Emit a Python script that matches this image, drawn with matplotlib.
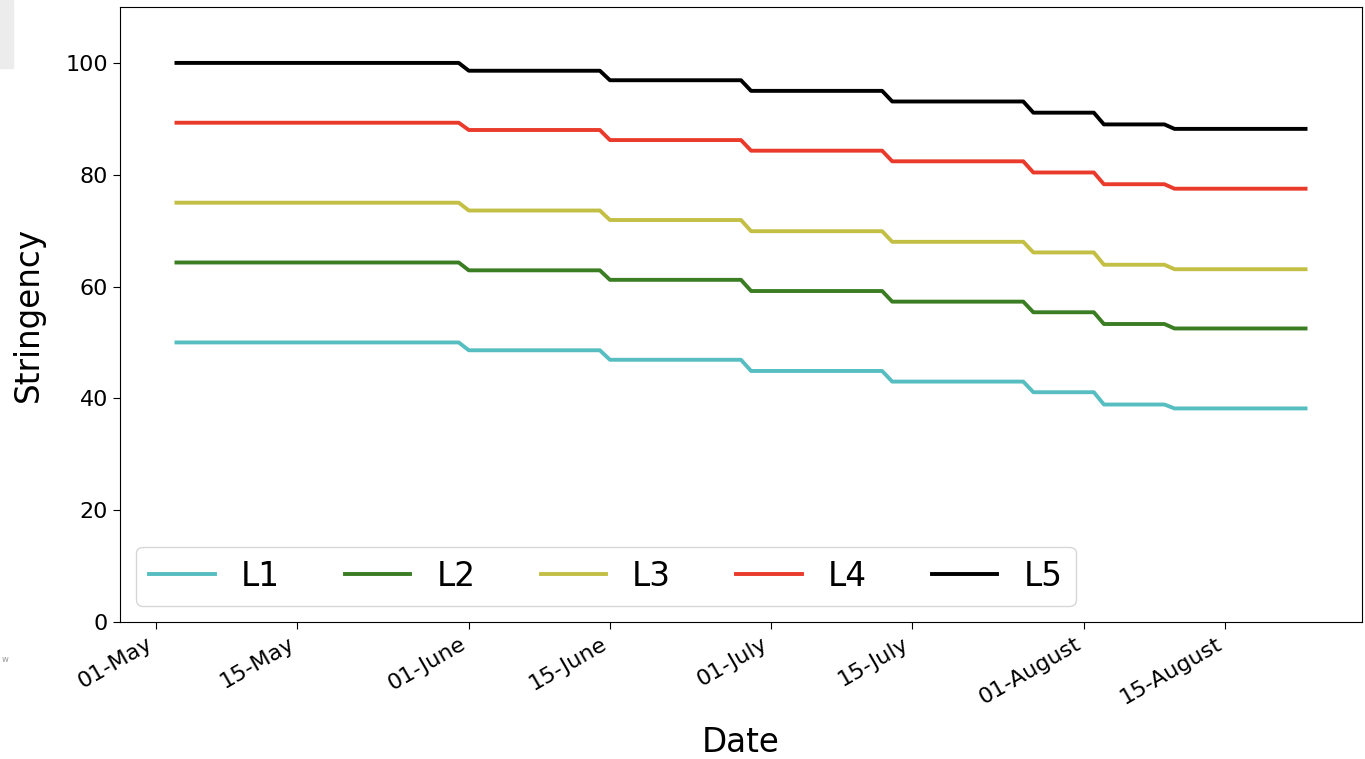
import pandas as pd
import matplotlib
matplotlib.use("Agg")
import matplotlib.pyplot as plt
import matplotlib.dates as mdates
from matplotlib.patches import Rectangle

# first day of each stringency level (last level runs to end_date)
step_dates = ['2020-05-03', '2020-06-01', '2020-06-15', '2020-06-29',
              '2020-07-13', '2020-07-27', '2020-08-03', '2020-08-10']
end_date = '2020-08-23'

labels = ['L1', 'L2', 'L3', 'L4', 'L5']
L1 = [50.0, 48.6, 46.9, 44.9, 43.0, 41.1, 38.9, 38.2]
L2 = [64.3, 62.9, 61.2, 59.2, 57.3, 55.4, 53.3, 52.5]
L3 = [75.0, 73.6, 71.9, 69.9, 68.0, 66.1, 63.9, 63.1]
L4 = [89.3, 88.0, 86.2, 84.3, 82.4, 80.4, 78.3, 77.5]
L5 = [100.0, 98.6, 96.9, 95.0, 93.1, 91.1, 89.0, 88.2]
colors = ['#56bec1', '#3a7d22', '#c3bf45', '#e93a2b', '#000000']

tick_dates = ['2020-05-01', '2020-05-15', '2020-06-01', '2020-06-15',
              '2020-07-01', '2020-07-15', '2020-08-01', '2020-08-15']


def daily(levels):
    # hold each level until the day before the next change
    starts = pd.to_datetime(step_dates)
    idx = pd.date_range(starts[0], end_date, freq='D')
    s = pd.Series(levels, index=starts).reindex(idx).ffill()
    return s


fig = plt.figure(figsize=(13.65, 7.59), dpi=100)
ax = fig.add_axes([120 / 1365, 137 / 759, 1242 / 1365, 615 / 759])

for lab, vals, c in zip(labels, [L1, L2, L3, L4, L5], colors):
    s = daily(vals)
    ax.plot(s.index, s.values, color=c, linewidth=2.8, label=lab)

ax.set_ylim(0, 110)
ax.set_yticks([0, 20, 40, 60, 80, 100])
ax.set_xticks(pd.to_datetime(tick_dates))
ax.xaxis.set_major_formatter(mdates.DateFormatter('%d-%B'))
ax.tick_params(axis='both', labelsize=16, length=5)
plt.setp(ax.get_xticklabels(), rotation=30, ha='right')

ax.set_ylabel('Stringency', fontsize=23.5, labelpad=15)
ax.set_xlabel('Date', fontsize=23.5, labelpad=13)

ax.legend(loc='lower left', ncol=5, fontsize=23.5, handlelength=2.0)

# leftover bits of the screenshot
fig.patches.append(Rectangle((0, 1 - 68 / 759), 13 / 1365, 68 / 759,
                             transform=fig.transFigure, color='#ececec', zorder=0))
fig.text(2 / 1365, 1 - 660 / 759, 'w', fontsize=6, color='#999999', va='center')

fig.savefig('out.png', dpi=100)
